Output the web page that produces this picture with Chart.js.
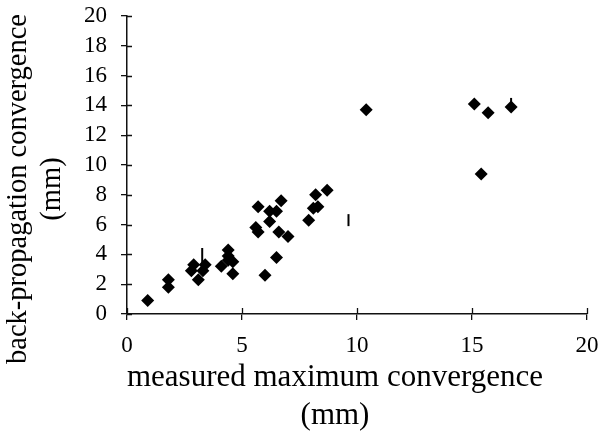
<!DOCTYPE html>
<html>
<head>
<meta charset="utf-8">
<script src="https://cdn.jsdelivr.net/npm/chart.js@4/dist/chart.umd.min.js"></script>
<style>
  html, body { margin: 0; padding: 0; background: #ffffff; }
  #wrap { width: 601px; height: 435px; }
</style>
</head>
<body>
<div id="wrap"><canvas id="c" width="601" height="435"></canvas></div>
<script>
// measured maximum convergence (mm)
const measured = [0.9, 1.8, 1.8, 2.9, 2.8, 3.1, 3.3, 3.4, 4.1, 4.4, 4.4, 4.6, 4.6, 4.4,
                  5.7, 5.6, 5.7, 6.0, 6.2, 6.2, 6.5, 6.7, 6.5, 6.6, 7.0,
                  7.9, 8.1, 8.3, 8.2, 8.7, 10.4, 15.1, 15.4, 15.7, 16.7];
// back-propagation convergence (mm)
const backprop = [0.9, 2.3, 1.8, 3.3, 2.9, 2.3, 2.9, 3.3, 3.2, 4.3, 3.6, 3.5, 2.7, 3.9,
                  7.2, 5.8, 5.5, 2.6, 6.2, 6.9, 6.9, 7.6, 3.8, 5.5, 5.2,
                  6.3, 7.1, 7.2, 8.0, 8.3, 13.7, 14.1, 9.4, 13.5, 13.9];
// stray vertical dash marks in the figure
const markX = [3.27, 9.63, 16.7];
const markY = [3.86, 6.3, 14.3];
const markLen = [8.5, 6, 3];

const xTicks = [0, 5, 10, 15, 20];
const yTicks = [0, 2, 4, 6, 8, 10, 12, 14, 16, 18, 20];

const pts = measured.map((x, i) => ({ x: x, y: backprop[i] }));
const marks = markX.map((x, i) => ({ x: x, y: markY[i] }));

const FONT = "'Liberation Serif', 'Times New Roman', serif";

// tick marks cross the axis lines: draw the inner half
const innerTicks = {
  id: 'innerTicks',
  afterDraw(chart) {
    const ctx = chart.ctx;
    const xs = chart.scales.x, ys = chart.scales.y;
    const a = chart.chartArea;
    ctx.save();
    ctx.strokeStyle = '#111';
    ctx.lineWidth = 1.3;
    ctx.beginPath();
    xTicks.forEach(v => {
      const px = Math.round(xs.getPixelForValue(v)) + 0.5;
      ctx.moveTo(px, a.bottom);
      ctx.lineTo(px, a.bottom - 6);
    });
    yTicks.forEach(v => {
      const py = Math.round(ys.getPixelForValue(v)) + 0.5;
      ctx.moveTo(a.left, py);
      ctx.lineTo(a.left + 5, py);
    });
    ctx.stroke();
    ctx.restore();
  }
};

// the axis titles in the figure are centred off the plot centre
const titleShift = { x: -22, y: 24 };
const shiftTitles = {
  id: 'shiftTitles',
  afterLayout(chart) {
    Object.entries(chart.scales).forEach(([id, s]) => {
      if (s._origDrawTitle) return;
      s._origDrawTitle = s.drawTitle;
      s.drawTitle = function () {
        const t = this.top, b = this.bottom, l = this.left, r = this.right;
        if (id === 'x') { this.left += titleShift.x; this.right += titleShift.x; }
        if (id === 'y') { this.top += titleShift.y; this.bottom += titleShift.y; }
        this._origDrawTitle();
        this.top = t; this.bottom = b; this.left = l; this.right = r;
      };
    });
  }
};

new Chart(document.getElementById('c'), {
  type: 'scatter',
  data: {
    datasets: [
      {
        label: 'convergence',
        data: pts,
        pointStyle: 'rectRot',
        pointRadius: 6.5,
        pointHoverRadius: 6.5,
        backgroundColor: '#000',
        borderColor: '#000',
        borderWidth: 0
      },
      {
        label: 'marks',
        data: marks,
        pointStyle: 'line',
        rotation: 90,
        pointRadius: markLen,
        pointHoverRadius: markLen,
        borderColor: '#000',
        borderWidth: 2
      }
    ]
  },
  options: {
    responsive: false,
    animation: false,
    devicePixelRatio: 1,
    layout: { padding: { top: 16, right: 14, left: 0, bottom: 0 } },
    plugins: { legend: { display: false }, tooltip: { enabled: false } },
    scales: {
      x: {
        type: 'linear',
        min: 0, max: 20,
        afterFit(s) { s.height = 121; s.paddingLeft = 0; s.paddingRight = 0; },
        afterBuildTicks(s) { s.ticks = xTicks.map(v => ({ value: v })); },
        ticks: { autoSkip: false, maxRotation: 0, color: '#000', font: { family: FONT, size: 23 }, padding: 12 },
        grid: { display: true, drawOnChartArea: false, drawTicks: true, tickLength: 6, color: '#111', lineWidth: 1.3 },
        border: { display: true, color: '#111', width: 1.5 },
        title: {
          display: true,
          text: ['measured maximum convergence', '(mm)'],
          color: '#000',
          font: { family: FONT, size: 31, lineHeight: 1.22 },
          padding: { top: 0, bottom: 0 }
        }
      },
      y: {
        type: 'linear',
        min: 0, max: 20,
        afterFit(s) { s.width = 127; s.paddingTop = 0; s.paddingBottom = 0; },
        afterBuildTicks(s) { s.ticks = yTicks.map(v => ({ value: v })); },
        ticks: { autoSkip: false, color: '#000', font: { family: FONT, size: 23 }, padding: 14 },
        grid: { display: true, drawOnChartArea: false, drawTicks: true, tickLength: 6, color: '#111', lineWidth: 1.3 },
        border: { display: true, color: '#111', width: 1.5 },
        title: {
          display: true,
          text: ['back-propagation convergence', '(mm)'],
          color: '#000',
          font: { family: FONT, size: 28.5, lineHeight: 1.2 },
          padding: { top: 1, bottom: 0 }
        }
      }
    }
  },
  plugins: [innerTicks, shiftTitles]
});
</script>
</body>
</html>
